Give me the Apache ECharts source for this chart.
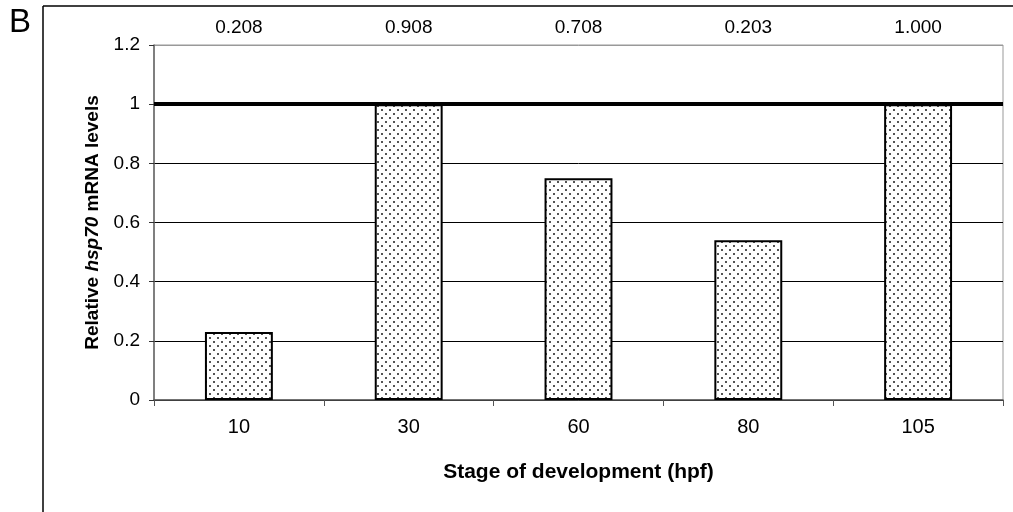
<!DOCTYPE html>
<html>
<head>
<meta charset="utf-8">
<script src="https://cdn.jsdelivr.net/npm/echarts@6/dist/echarts.min.js"></script>
<style>
html,body{margin:0;padding:0;background:#fff;}
#c{width:1013px;height:512px;}
</style>
</head>
<body>
<div id="c"></div>
<script>
// Data
const categories = ['10', '30', '60', '80', '105'];
const values = [0.23, 1.0, 0.75, 0.54, 1.0];
const topLabels = ['0.208', '0.908', '0.708', '0.203', '1.000'];
const yTicks = ['0', '0.2', '0.4', '0.6', '0.8', '1', '1.2'];
const refLevel = 1;

// dotted pattern
const pc = document.createElement('canvas');
pc.width = 8; pc.height = 8;
const g = pc.getContext('2d');
g.fillStyle = '#fff'; g.fillRect(0, 0, 8, 8);
g.fillStyle = '#555';
g.fillRect(1, 1, 2, 2);
g.fillRect(5, 5, 2, 2);

const font = '"Liberation Sans", Arial, sans-serif';
const chart = echarts.init(document.getElementById('c'), null, {renderer: 'canvas'});
chart.setOption({
  backgroundColor: '#fff',
  animation: false,
  textStyle: {fontFamily: font},
  grid: {left: 154, right: 10, top: 45, bottom: 112, show: true, borderColor: '#999', borderWidth: 1, backgroundColor: 'transparent'},
  graphic: [
    {type: 'line', shape: {x1: 43, y1: 6, x2: 43, y2: 512}, style: {stroke: '#000', lineWidth: 1.5}},
    {type: 'line', shape: {x1: 43, y1: 6, x2: 1013, y2: 6}, style: {stroke: '#000', lineWidth: 1.5}},
    {type: 'text', left: 9, top: 6, style: {text: 'B', font: '33px ' + font, fill: '#000'}}
  ],
  xAxis: [
    {
      type: 'category', data: categories, position: 'bottom',
      axisLine: {lineStyle: {color: '#555', width: 1.5}},
      axisTick: {show: true, length: 6, lineStyle: {color: '#555'}},
      axisLabel: {color: '#000', fontSize: 20, margin: 17, fontFamily: font},
      name: 'Stage of development (hpf)', nameLocation: 'middle', nameGap: 62,
      nameTextStyle: {color: '#000', fontSize: 21, fontWeight: 'bold', fontFamily: font}
    },
    {
      type: 'category', data: topLabels, position: 'top',
      axisLine: {show: false}, axisTick: {show: false},
      axisLabel: {color: '#000', fontSize: 19, margin: 8, fontFamily: font}
    }
  ],
  yAxis: {
    type: 'value', min: 0, max: 1.2, interval: 0.2,
    axisLine: {show: true, lineStyle: {color: '#666', width: 1.5}},
    axisTick: {show: true, length: 5, lineStyle: {color: '#333'}},
    axisLabel: {color: '#000', fontSize: 19, margin: 14, fontFamily: font,
      formatter: function (v) { return yTicks[Math.round(v / 0.2)]; }},
    splitLine: {show: true, lineStyle: {color: ['#000', '#000', '#000', '#000', '#000', '#000', '#999'], width: 1}},
    name: '{b|Relative }{i|hsp70}{b| mRNA levels}', nameLocation: 'middle', nameGap: 52, nameRotate: 90,
    nameTextStyle: {
      fontSize: 19, color: '#000', fontWeight: 'bold',
      rich: {
        b: {fontSize: 19, fontWeight: 'bold', color: '#000', fontFamily: font},
        i: {fontSize: 19, fontWeight: 'bold', fontStyle: 'italic', color: '#000', fontFamily: font}
      }
    }
  },
  series: [{
    type: 'bar', data: values, xAxisIndex: 0, barWidth: '40%',
    itemStyle: {color: {image: pc, repeat: 'repeat'}, borderColor: '#000', borderWidth: 2},
    markLine: {
      silent: true, symbol: 'none', label: {show: false},
      lineStyle: {color: '#000', width: 4, type: 'solid'},
      data: [{yAxis: refLevel}]
    }
  }]
});
</script>
</body>
</html>
